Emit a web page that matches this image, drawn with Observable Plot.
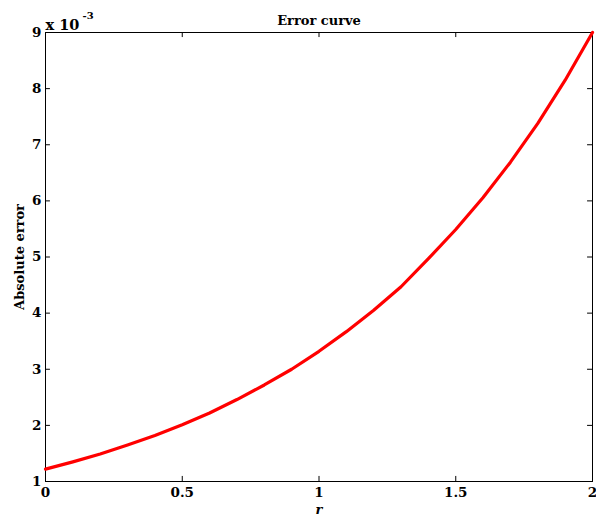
<!DOCTYPE html>
<html><head><meta charset="utf-8">
<script src="https://cdn.jsdelivr.net/npm/d3@7"></script>
<script src="https://cdn.jsdelivr.net/npm/@observablehq/plot@0.6"></script>
<style>body{margin:0;background:#fff}</style>
</head><body><div id="chart"></div>
<script>
const rValues = [0,0.1,0.2,0.3,0.4,0.5,0.6,0.7,0.8,0.9,1.0,1.1,1.2,1.3,1.4,1.5,1.6,1.7,1.8,1.9,2.0];
const errValues = [1.22,1.35,1.49,1.65,1.82,2.01,2.22,2.46,2.72,3.00,3.32,3.67,4.05,4.47,4.97,5.49,6.06,6.69,7.38,8.15,9.0];
const xTicks = [0,0.5,1,1.5,2];
const yTicks = [1,2,3,4,5,6,7,8,9];
const title = "Error curve";
const xLabel = "r";
const yLabel = "Absolute error";

const data = rValues.map((r,i)=>({r, e: errValues[i]}));
const font = "'DejaVu Serif', 'Liberation Serif', serif";

const chart = Plot.plot({
  width: 596, height: 523,
  marginLeft: 45, marginRight: 4, marginTop: 32, marginBottom: 42,
  style: {fontFamily: font, background: "#fff"},
  x: {domain: [0,2]},
  y: {domain: [1,9]},
  marks: [
    Plot.ruleX(xTicks, {x: d=>d, y1: 1, y2: 1.09, stroke:"#000"}),
    Plot.ruleX(xTicks, {x: d=>d, y1: 8.91, y2: 9, stroke:"#000"}),
    Plot.ruleY(yTicks, {y: d=>d, x1: 0, x2: 0.018, stroke:"#000"}),
    Plot.ruleY(yTicks, {y: d=>d, x1: 1.982, x2: 2, stroke:"#000"}),
    Plot.frame({stroke: "#000", strokeWidth: 1}),
    Plot.axisX({ticks: xTicks, tickSize: 0, tickPadding: 6, tickFormat: d=>String(d), label: null, fontSize: 13.5, fontWeight: "bold", fill:"#000"}),
    Plot.axisY({ticks: yTicks, tickSize: 0, tickPadding: 4, tickFormat: d=>String(d), label: null, fontSize: 13.5, fontWeight: "bold", fill:"#000"}),
    Plot.line(data, {x: "r", y: "e", stroke: "#ff0000", strokeWidth: 3.2}),
    Plot.text([title], {frameAnchor: "top", textAnchor: "middle", dy: -17, fontSize: 13, fontWeight: "bold", fill:"#000"}),
    Plot.text(["x 10"], {frameAnchor: "top-left", textAnchor: "start", dy: -13, fontSize: 14.5, fontWeight: "bold", fill:"#000"}),
    Plot.text(["-3"], {frameAnchor: "top-left", textAnchor: "start", dx: 37, dy: -21, fontSize: 10, fontWeight: "bold", fill:"#000"}),
    Plot.text([xLabel], {frameAnchor: "bottom", textAnchor: "middle", dy: 32, fontSize: 13, fontStyle: "italic", fontWeight: "bold", fill:"#000"}),
    Plot.text([yLabel], {frameAnchor: "left", textAnchor: "middle", dx: -26, rotate: -90, fontSize: 13, fontWeight: "bold", fill:"#000"})
  ]
});
document.getElementById("chart").appendChild(chart);
</script>
</body></html>
